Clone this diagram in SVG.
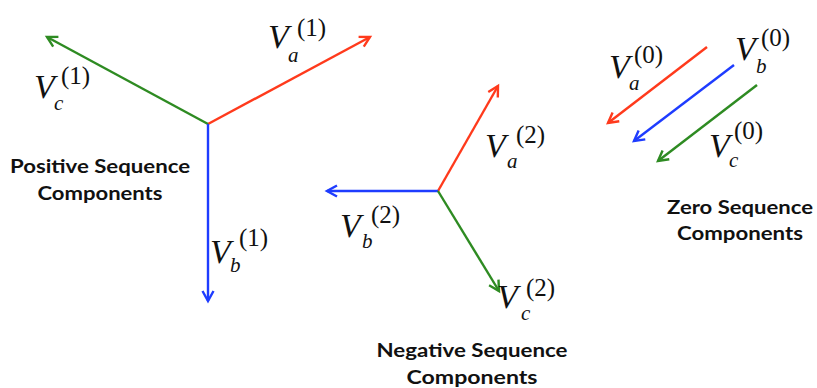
<svg xmlns="http://www.w3.org/2000/svg" width="817" height="388" viewBox="0 0 817 388">
<style>
.r{stroke:#ff3a1c}.g{stroke:#2e8b22}.b{stroke:#1e3cff}
.ln{stroke-width:2.4;fill:none}
.V{font-family:"Liberation Serif",serif;font-style:italic;font-size:34px;fill:#111}
.s{font-family:"Liberation Serif",serif;font-style:italic;font-size:21px;fill:#111}
.p{font-family:"Liberation Serif",serif;font-size:25px;fill:#111}
.t{font-family:Lato,"Open Sans",sans-serif;font-weight:bold;font-size:19px;fill:#111;text-anchor:middle}
</style>
<defs>
<marker id="mr" markerUnits="userSpaceOnUse" markerWidth="16" markerHeight="16" viewBox="-12 -8 14 16" refX="0" refY="0" orient="auto"><path d="M-10,-5.5 L0,0 L-10,5.5" fill="none" stroke="#ff3a1c" stroke-width="2.4"/></marker>
<marker id="mg" markerUnits="userSpaceOnUse" markerWidth="16" markerHeight="16" viewBox="-12 -8 14 16" refX="0" refY="0" orient="auto"><path d="M-10,-5.5 L0,0 L-10,5.5" fill="none" stroke="#2e8b22" stroke-width="2.4"/></marker>
<marker id="mb" markerUnits="userSpaceOnUse" markerWidth="16" markerHeight="16" viewBox="-12 -8 14 16" refX="0" refY="0" orient="auto"><path d="M-10,-5.5 L0,0 L-10,5.5" fill="none" stroke="#1e3cff" stroke-width="2.4"/></marker>
</defs>
<rect width="817" height="388" fill="#fff"/>
<g id="connectors">
<line class="ln r" x1="208" y1="124" x2="370" y2="37" marker-end="url(#mr)"/>
<line class="ln g" x1="208" y1="124" x2="47" y2="37" marker-end="url(#mg)"/>
<line class="ln b" x1="208" y1="124" x2="208" y2="301" marker-end="url(#mb)"/>
<line class="ln r" x1="438" y1="191" x2="498" y2="86" marker-end="url(#mr)"/>
<line class="ln b" x1="438" y1="191" x2="327" y2="191" marker-end="url(#mb)"/>
<line class="ln g" x1="438" y1="191" x2="499" y2="291" marker-end="url(#mg)"/>
<line class="ln r" x1="707" y1="47" x2="608" y2="123" marker-end="url(#mr)"/>
<line class="ln b" x1="734" y1="65" x2="634" y2="141" marker-end="url(#mb)"/>
<line class="ln g" x1="757" y1="85" x2="658" y2="161" marker-end="url(#mg)"/>
</g>
<g id="positive">
<text class="t" x="100" y="173" textLength="180" lengthAdjust="spacingAndGlyphs">Positive Sequence</text>
<text class="t" x="100" y="200" textLength="125" lengthAdjust="spacingAndGlyphs">Components</text>
<g id="Va1"><text class="V" x="268" y="48">V</text><text class="s" x="288" y="62">a</text><text class="p" x="297" y="36">(1)</text></g>
<g id="Vc1"><text class="V" x="34" y="98">V</text><text class="s" x="54" y="110">c</text><text class="p" x="61" y="84">(1)</text></g>
<g id="Vb1"><text class="V" x="210" y="263">V</text><text class="s" x="230" y="272">b</text><text class="p" x="239" y="246">(1)</text></g>
</g>
<g id="negative">
<text class="t" x="472" y="357" textLength="191" lengthAdjust="spacingAndGlyphs">Negative Sequence</text>
<text class="t" x="472" y="384" textLength="131" lengthAdjust="spacingAndGlyphs">Components</text>
<g id="Va2"><text class="V" x="485" y="157">V</text><text class="s" x="507" y="168">a</text><text class="p" x="516" y="143">(2)</text></g>
<g id="Vb2"><text class="V" x="340" y="237">V</text><text class="s" x="362" y="248">b</text><text class="p" x="371" y="223">(2)</text></g>
<g id="Vc2"><text class="V" x="497" y="308">V</text><text class="s" x="521" y="320">c</text><text class="p" x="526" y="296">(2)</text></g>
</g>
<g id="zero">
<text class="t" x="740" y="214" textLength="146" lengthAdjust="spacingAndGlyphs">Zero Sequence</text>
<text class="t" x="740" y="240" textLength="126" lengthAdjust="spacingAndGlyphs">Components</text>
<g id="Va0"><text class="V" x="609" y="78">V</text><text class="s" x="629" y="90">a</text><text class="p" x="634" y="63">(0)</text></g>
<g id="Vb0"><text class="V" x="735" y="60">V</text><text class="s" x="756" y="73">b</text><text class="p" x="761" y="46">(0)</text></g>
<g id="Vc0"><text class="V" x="709" y="157">V</text><text class="s" x="729" y="167">c</text><text class="p" x="734" y="139">(0)</text></g>
</g>
</svg>
